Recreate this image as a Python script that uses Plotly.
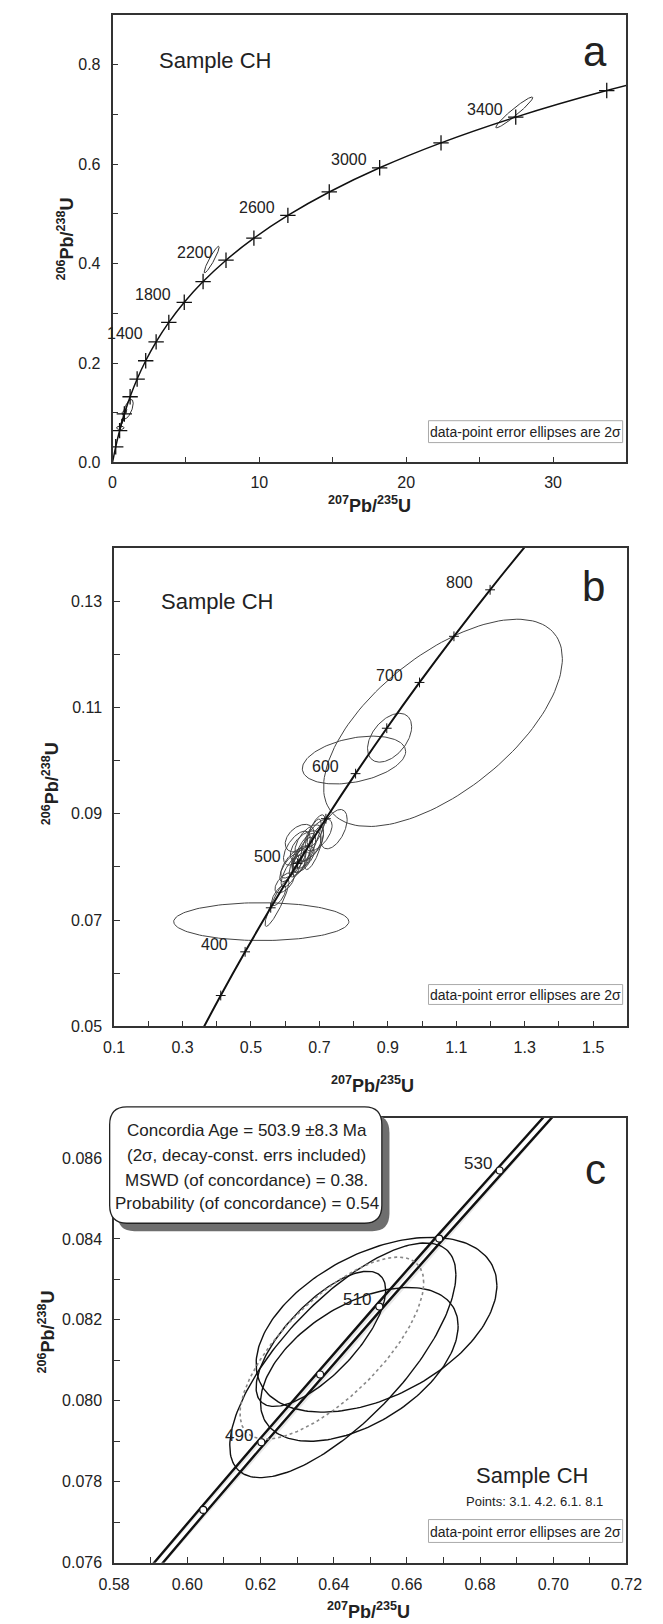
import numpy as np
import plotly.graph_objects as go

W, H = 663, 1624

# ---------------- data ----------------
# Concordia curve, panel a (age Ma, 207Pb/235U, 206Pb/238U)
conc_a_age = [0, 200, 400, 600, 800, 1000, 1200, 1400, 1600, 1800, 2000, 2200, 2400,
              2600, 2800, 3000, 3200, 3400, 3600, 3800]
conc_a_x = [0.0, 0.2177, 0.4828, 0.8056, 1.1987, 1.6774, 2.2603, 2.9700, 3.8341, 4.8865,
            6.1681, 7.7287, 9.6292, 11.943, 14.761, 18.193, 22.372, 27.461, 33.658, 41.20]
conc_a_y = [0.0, 0.03151, 0.06402, 0.09754, 0.13213, 0.16781, 0.20461, 0.24258, 0.28174,
            0.32214, 0.36381, 0.40679, 0.45112, 0.49685, 0.54401, 0.59266, 0.64284,
            0.69460, 0.74799, 0.80304]
labels_a = [1400, 1800, 2200, 2600, 3000, 3400]

# Concordia curve, panel b
conc_b_age = [300, 350, 400, 450, 500, 550, 600, 650, 700, 750, 800, 850, 900]
conc_b_x = [0.34374, 0.41156, 0.48280, 0.55766, 0.63628, 0.71887, 0.80563, 0.89677,
            0.99251, 1.09308, 1.19875, 1.30971, 1.42630]
conc_b_y = [0.047637, 0.055795, 0.064016, 0.072301, 0.080650, 0.089064, 0.097544,
            0.106090, 0.114700, 0.123380, 0.132130, 0.140940, 0.149830]
labels_b = [400, 500, 600, 700, 800]

# Concordia band, panel c (decay-constant error envelope)
conc_c_age = [460, 470, 480, 490, 500, 510, 520, 530, 540, 550]
conc_c_x = [0.57307, 0.58864, 0.60436, 0.62024, 0.63628, 0.65247, 0.66883, 0.68535,
            0.70202, 0.71887]
conc_c_y = [0.073965, 0.075632, 0.077302, 0.078975, 0.080650, 0.082327, 0.084008,
            0.085691, 0.087376, 0.089064]
band_left_x = [0.57187, 0.58744, 0.60316, 0.61904, 0.63508, 0.65127, 0.66763, 0.68415,
               0.70082, 0.71767]
band_right_x = [0.57427, 0.58984, 0.60556, 0.62144, 0.63748, 0.65367, 0.67003, 0.68655,
                0.70322, 0.72007]
labels_c = [490, 510, 530]

# Selected points (3.1, 4.2, 6.1, 8.1): centre, 2-sigma errors, error correlation
sel_x = [0.6425, 0.6517, 0.6365, 0.6470]
sel_y = [0.0810, 0.08188, 0.08153, 0.0809]
sel_ex = [0.0309, 0.0329, 0.0177, 0.0270]
sel_ey = [0.0029, 0.00216, 0.00167, 0.0019]
sel_rho = [0.73, 0.45, 0.72, 0.50]

# Concordia-age ellipse (dotted)
cage_x = [0.6395]
cage_y = [0.0813]
cage_ex = [0.0251]
cage_ey = [0.00225]
cage_rho = [0.72]

# Other analyses (2-sigma)
oth_x = [1.061, 0.801, 0.905, 0.530, 0.742, 0.634, 0.656, 0.670, 0.623, 0.698, 0.642,
         0.612, 0.576, 0.581, 0.598, 0.684, 0.650, 0.675, 0.690, 0.660, 0.618, 6.75, 27.36]
oth_y = [0.1071, 0.1001, 0.1043, 0.0697, 0.0871, 0.08353, 0.0826, 0.0845, 0.0807, 0.0860,
         0.0854, 0.0798, 0.0732, 0.0746, 0.0770, 0.0836, 0.0820, 0.0850, 0.0868, 0.0838,
         0.0792, 0.408, 0.704]
oth_ex = [0.349, 0.151, 0.0645, 0.256, 0.039, 0.039, 0.033, 0.042, 0.036, 0.039, 0.042,
          0.028, 0.035, 0.021, 0.028, 0.028, 0.030, 0.030, 0.026, 0.045, 0.030, 0.51, 1.26]
oth_ey = [0.0195, 0.0045, 0.00459, 0.00356, 0.0037, 0.0032, 0.0037, 0.0034, 0.0028, 0.0030,
          0.0026, 0.0026, 0.0044, 0.0019, 0.0019, 0.0041, 0.0036, 0.0040, 0.0030, 0.0030,
          0.0030, 0.0267, 0.031]
oth_rho = [0.62, 0.36, 0.45, 0.0, 0.5, 0.6, 0.7, 0.5, 0.7, 0.6, 0.4, 0.7, 0.9, 0.7, 0.6,
           0.75, 0.8, 0.8, 0.7, 0.5, 0.75, 0.93, 0.96]


# ---------------- helpers ----------------
def outlines(xs, ys, exs, eys, rhos, n=140):
    t = np.linspace(0, 2 * np.pi, n)
    X, Y = [], []
    for cx, cy, ex, ey, r in zip(xs, ys, exs, eys, rhos):
        X += list(cx + ex * np.cos(t)) + [None]
        Y += list(cy + ey * (r * np.cos(t) + np.sqrt(1 - r * r) * np.sin(t))) + [None]
    return X, Y


FONT = "Liberation Sans, Arial, sans-serif"
TXT = "#222"
fig = go.Figure()

all_x = oth_x + sel_x
all_y = oth_y + sel_y
all_ex = oth_ex + sel_ex
all_ey = oth_ey + sel_ey
all_rho = oth_rho + sel_rho

# ---- panel a ----
ex_, ey_ = outlines(all_x, all_y, all_ex, all_ey, all_rho)
fig.add_trace(go.Scatter(x=ex_, y=ey_, mode="lines", xaxis="x", yaxis="y",
                         line=dict(color="#333", width=1), hoverinfo="skip"))
fig.add_trace(go.Scatter(x=conc_a_x, y=conc_a_y, mode="lines", xaxis="x", yaxis="y",
                         line=dict(color="#111", width=1.5, shape="spline", smoothing=1.0)))
fig.add_trace(go.Scatter(x=conc_a_x[1:], y=conc_a_y[1:], mode="markers", xaxis="x", yaxis="y",
                         marker=dict(symbol="cross-thin", size=11,
                                     line=dict(color="#111", width=1.3))))

# ---- panel b ----
ex_, ey_ = outlines(all_x, all_y, all_ex, all_ey, all_rho)
fig.add_trace(go.Scatter(x=ex_, y=ey_, mode="lines", xaxis="x2", yaxis="y2",
                         line=dict(color="#444", width=1), hoverinfo="skip"))
fig.add_trace(go.Scatter(x=conc_b_x, y=conc_b_y, mode="lines+markers", xaxis="x2", yaxis="y2",
                         line=dict(color="#111", width=2, shape="spline"),
                         marker=dict(symbol="cross-thin", size=7,
                                     line=dict(color="#111", width=1))))

# ---- panel c ----
fig.add_trace(go.Scatter(x=band_left_x, y=conc_c_y, mode="lines", xaxis="x3", yaxis="y3",
                         line=dict(color="#111", width=2.4)))
fig.add_trace(go.Scatter(x=band_right_x, y=conc_c_y, mode="lines", xaxis="x3", yaxis="y3",
                         fill="tonext", fillcolor="#e9e9e9",
                         line=dict(color="#111", width=2.4)))
ex_, ey_ = outlines(sel_x, sel_y, sel_ex, sel_ey, sel_rho, n=200)
fig.add_trace(go.Scatter(x=ex_, y=ey_, mode="lines", xaxis="x3", yaxis="y3",
                         line=dict(color="#111", width=1.4), hoverinfo="skip"))
ex_, ey_ = outlines(cage_x, cage_y, cage_ex, cage_ey, cage_rho, n=200)
fig.add_trace(go.Scatter(x=ex_, y=ey_, mode="lines", xaxis="x3", yaxis="y3",
                         line=dict(color="#888", width=1.6, dash="dot"), hoverinfo="skip"))
fig.add_trace(go.Scatter(x=conc_c_x, y=conc_c_y, mode="markers", xaxis="x3", yaxis="y3",
                         marker=dict(symbol="circle", size=7, color="white",
                                     line=dict(color="#111", width=1.2))))


# ---------------- axes ----------------
def axis(domain, rng, anchor, dtick, tick0, mdtick, fmt, standoff):
    return dict(domain=domain, range=rng, anchor=anchor, autorange=False,
                showline=True, linecolor="#333", linewidth=1.6, mirror=True,
                ticks="inside", ticklen=6, tickwidth=1.1, tickcolor="#333",
                dtick=dtick, tick0=tick0, tickformat=fmt,
                showgrid=False, zeroline=False,
                tickfont=dict(family=FONT, size=16, color=TXT),
                ticklabelstandoff=standoff,
                minor=dict(ticks="inside", ticklen=6, tickwidth=1.1, tickcolor="#333",
                           dtick=mdtick, tick0=tick0, showgrid=False))


layout = dict(
    width=W, height=H, margin=dict(l=0, r=0, t=0, b=0),
    paper_bgcolor="white", plot_bgcolor="white", showlegend=False,
    font=dict(family=FONT, color=TXT, size=16),
    xaxis=axis([93 / W, 633 / W], [0, 35], "y", 10, 0, 5, "d", 5),
    yaxis=axis([1 - 457 / H, 1 - 7 / H], [0, 0.9], "x", 0.2, 0, 0.1, ".1f", 7),
    xaxis2=axis([94.7 / W, 634 / W], [0.1, 1.6], "y2", 0.2, 0.1, 0.1, ".1f", 6),
    yaxis2=axis([1 - 1024 / H, 1 - 543 / H], [0.05, 0.14], "x2", 0.02, 0.05, 0.01, ".2f", 7),
    xaxis3=axis([94.7 / W, 633 / W], [0.58, 0.72], "y3", 0.02, 0.58, 0.01, ".2f", 6),
    yaxis3=axis([1 - 1563.3 / H, 1 - 1115.7 / H], [0.076, 0.087], "x3", 0.002, 0.076, 0.001,
                ".3f", 7),
)
fig.update_layout(**layout)

# ---------------- annotations ----------------
ann = []


def ptext(x, y, text, size, xanchor="center", yanchor="middle", angle=0, color=TXT,
          weight="normal"):
    ann.append(dict(x=x / W, y=1 - y / H, xref="paper", yref="paper", text=text,
                    showarrow=False, xanchor=xanchor, yanchor=yanchor, textangle=angle,
                    font=dict(family=FONT, size=size, color=color, weight=weight)))


XT = "<sup>207</sup>Pb/<sup>235</sup>U"
YT = "<sup>206</sup>Pb/<sup>238</sup>U"
BOXT = "data-point error ellipses are 2σ"

# panel a
ptext(139.5, 53, "Sample CH", 22, xanchor="left")
ptext(600, 44, "a", 42)
ptext(527, 426, BOXT, 14)
ptext(363, 499, XT, 18, weight="bold")
ptext(44, 232, YT, 18, angle=-90, weight="bold")
# panel b
ptext(141.6, 597, "Sample CH", 22, xanchor="left")
ptext(598, 582, "b", 42)
ptext(527, 992, BOXT, 14)
ptext(366, 1083, XT, 18, weight="bold")
ptext(28, 780, YT, 18, angle=-90, weight="bold")
# panel c
ptext(600, 1168, "c", 42)
ptext(534, 1476, "Sample CH", 22)
ptext(536, 1502, "Points: 3.1. 4.2. 6.1. 8.1", 13)
ptext(527, 1532, BOXT, 14)
ptext(362, 1611, XT, 18, weight="bold")
ptext(24, 1331, YT, 18, angle=-90, weight="bold")
for yy, t in zip([1128.5, 1154, 1179, 1202],
                 ["Concordia Age = 503.9 ±8.3 Ma", "(2σ, decay-const. errs included)",
                  "MSWD (of concordance) = 0.38.", "Probability (of concordance) = 0.54"]):
    ptext(234, yy, t, 17)

# concordia age labels
for age in labels_a:
    i = conc_a_age.index(age)
    ann.append(dict(x=conc_a_x[i], y=conc_a_y[i], xref="x", yref="y", text=str(age),
                    showarrow=False, xanchor="right", yanchor="middle", xshift=-11, yshift=8,
                    font=dict(family=FONT, size=16, color=TXT)))
for age in labels_b:
    i = conc_b_age.index(age)
    ann.append(dict(x=conc_b_x[i], y=conc_b_y[i], xref="x2", yref="y2", text=str(age),
                    showarrow=False, xanchor="right", yanchor="middle", xshift=-15, yshift=7,
                    font=dict(family=FONT, size=16, color=TXT)))
for age in labels_c:
    i = conc_c_age.index(age)
    ann.append(dict(x=conc_c_x[i], y=conc_c_y[i], xref="x3", yref="y3", text=str(age),
                    showarrow=False, xanchor="right", yanchor="middle", xshift=-6, yshift=7,
                    font=dict(family=FONT, size=17, color=TXT)))

fig.update_layout(annotations=ann)

# ---------------- shapes (boxes) ----------------
shapes = []


def prect(x0, y0, x1, y1, line="#aaa"):
    shapes.append(dict(type="rect", xref="paper", yref="paper", x0=x0 / W, x1=x1 / W,
                       y0=1 - y1 / H, y1=1 - y0 / H, line=dict(color=line, width=1),
                       fillcolor="white", layer="above"))


def rounded(x0, y0, x1, y1, r, fill, line, lw):
    rx, ry = r / W, r / H
    X0, X1 = x0 / W, x1 / W
    Yt, Yb = 1 - y0 / H, 1 - y1 / H
    p = (f"M {X0+rx},{Yt} L {X1-rx},{Yt} Q {X1},{Yt} {X1},{Yt-ry} "
         f"L {X1},{Yb+ry} Q {X1},{Yb} {X1-rx},{Yb} L {X0+rx},{Yb} "
         f"Q {X0},{Yb} {X0},{Yb+ry} L {X0},{Yt-ry} Q {X0},{Yt} {X0+rx},{Yt} Z")
    shapes.append(dict(type="path", xref="paper", yref="paper", path=p, fillcolor=fill,
                       line=dict(color=line, width=lw), layer="above"))


prect(425, 415, 629, 437)
prect(425, 982, 629, 1002)
prect(425, 1520, 629, 1543)
rounded(98, 1113, 384, 1230, 18, "#6e6e6e", "#6e6e6e", 0)
rounded(90, 1105, 376, 1222, 18, "white", "#222", 1.3)
fig.update_layout(shapes=shapes)

fig.write_html("out.html")
